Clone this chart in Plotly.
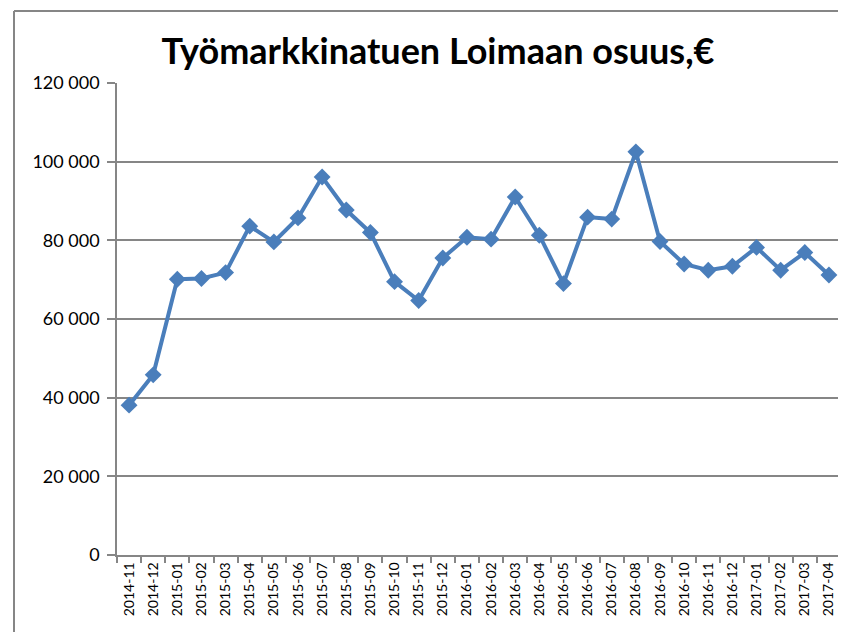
import plotly.graph_objects as go

months = ["2014-11", "2014-12", "2015-01", "2015-02", "2015-03", "2015-04", "2015-05",
          "2015-06", "2015-07", "2015-08", "2015-09", "2015-10", "2015-11", "2015-12",
          "2016-01", "2016-02", "2016-03", "2016-04", "2016-05", "2016-06", "2016-07",
          "2016-08", "2016-09", "2016-10", "2016-11", "2016-12", "2017-01", "2017-02",
          "2017-03", "2017-04"]
values = [38100, 45800, 70100, 70300, 71800, 83600, 79600, 85700, 96100, 87700,
          82000, 69500, 64700, 75500, 80800, 80300, 91000, 81300, 69000, 85900,
          85400, 102500, 79700, 74000, 72400, 73400, 78200, 72400, 76900, 71200]
y_ticks = [0, 20000, 40000, 60000, 80000, 100000, 120000]
y_labels = ["0", "20 000", "40 000", "60 000", "80 000", "100 000", "120 000"]

# page body has an 8px margin, so the figure is sized to fit the window
W, H = 838, 624
L, R, T, B = 109, 5, 75, 77
pw, ph = W - L - R, H - T - B

fig = go.Figure()
fig.add_trace(go.Scatter(
    x=months, y=values, mode="lines+markers",
    line=dict(color="#4A7EBB", width=4),
    marker=dict(symbol="diamond", size=13, color="#4A7EBB"),
    hoverinfo="x+y",
))

gray = "#868686"
bx0 = (6 - L) / pw
bx1 = (W + 20 - L) / pw
by0 = -(H + 20 - (H - B)) / ph
by1 = (H - B - 3) / ph

fig.update_layout(
    width=W, height=H,
    margin=dict(l=L, r=R, t=T, b=B),
    paper_bgcolor="white", plot_bgcolor="white",
    showlegend=False,
    title=dict(
        text="<b>Työmarkkinatuen Loimaan osuus,€</b>",
        x=430 / W, xanchor="center", y=1 - 43 / H, yanchor="middle",
        font=dict(family="Lato", size=36, color="black"),
    ),
    xaxis=dict(
        type="category", range=[-0.5, len(months) - 0.5],
        showgrid=False, showline=True, linecolor=gray, linewidth=1.5,
        ticks="outside", tickson="boundaries", ticklen=6, tickcolor=gray, tickwidth=1.5,
        tickangle=-90, tickfont=dict(family="Lato", size=14, color="black"),
        zeroline=False,
    ),
    yaxis=dict(
        range=[0, 120000], tickvals=y_ticks, ticktext=y_labels,
        showgrid=True, gridcolor=gray, gridwidth=1.5,
        showline=True, linecolor=gray, linewidth=1.5,
        ticks="outside", ticklen=8, tickcolor=gray, tickwidth=1.5,
        tickfont=dict(family="Lato", size=18, color="black"),
        zeroline=False, ticklabelstandoff=4,
    ),
    shapes=[
        dict(type="line", xref="paper", yref="paper", x0=bx0, x1=bx0, y0=by0, y1=by1,
             line=dict(color=gray, width=2), layer="below"),
        dict(type="line", xref="paper", yref="paper", x0=bx0, x1=bx1, y0=by1, y1=by1,
             line=dict(color=gray, width=2), layer="below"),
    ],
)

fig.write_html("out.html")
